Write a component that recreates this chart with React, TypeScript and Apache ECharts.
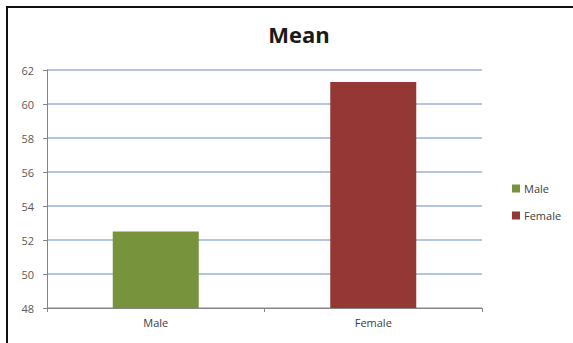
import React, { useEffect, useRef } from "react";
import * as echarts from "echarts";

const categories = ["Male", "Female"];
const maleValues = [52.5, "-"];
const femaleValues = ["-", 61.3];
const yMin = 48;
const yMax = 62;
const yInterval = 2;

export default function App() {
  const ref = useRef<HTMLDivElement>(null);
  useEffect(() => {
    const chart = echarts.init(ref.current!, null, { renderer: "svg" });
    chart.setOption({
      animation: false,
      backgroundColor: "#ffffff",
      title: {
        text: "Mean",
        left: 294,
        top: 18,
        textAlign: "center",
        textStyle: { fontFamily: "Open Sans", fontWeight: "bold", fontSize: 22, color: "#1a1a1a" },
      },
      legend: {
        orient: "vertical",
        left: 507,
        top: 178,
        itemWidth: 8,
        itemHeight: 8,
        itemGap: 16,
        icon: "rect",
        data: ["Male", "Female"],
        textStyle: { fontFamily: "Open Sans", fontSize: 11, color: "#404040", padding: [0, 0, 0, -1] },
      },
      grid: { left: 47, right: 91, top: 70, bottom: 35 },
      xAxis: {
        type: "category",
        data: categories,
        axisLine: { lineStyle: { color: "#868686" } },
        axisTick: { show: true, length: 4, lineStyle: { color: "#868686" } },
        axisLabel: { fontFamily: "Open Sans", fontSize: 11, color: "#404040", margin: 9 },
      },
      yAxis: {
        type: "value",
        min: yMin,
        max: yMax,
        interval: yInterval,
        axisLine: { show: true, lineStyle: { color: "#868686" } },
        axisTick: { show: true, length: 4, lineStyle: { color: "#868686" } },
        axisLabel: { fontFamily: "Open Sans", fontSize: 11, color: "#595959", margin: 13 },
        splitLine: { lineStyle: { color: "#98b3d6", width: 1.5 } },
      },
      series: [
        {
          name: "Male",
          type: "bar",
          data: maleValues,
          barWidth: 86,
          barGap: "-100%",
          itemStyle: { color: "#77933c" },
        },
        {
          name: "Female",
          type: "bar",
          data: femaleValues,
          barWidth: 86,
          itemStyle: { color: "#953735" },
        },
      ],
      graphic: [
        { type: "line", shape: { x1: 6, y1: 7, x2: 573, y2: 7 }, style: { stroke: "#111", lineWidth: 2 } },
        { type: "line", shape: { x1: 7, y1: 6, x2: 7, y2: 343 }, style: { stroke: "#111", lineWidth: 2 } },
      ],
    });
    return () => chart.dispose();
  }, []);
  return <div ref={ref} style={{ position: "absolute", left: 0, top: 0, width: 573, height: 343 }} />;
}
